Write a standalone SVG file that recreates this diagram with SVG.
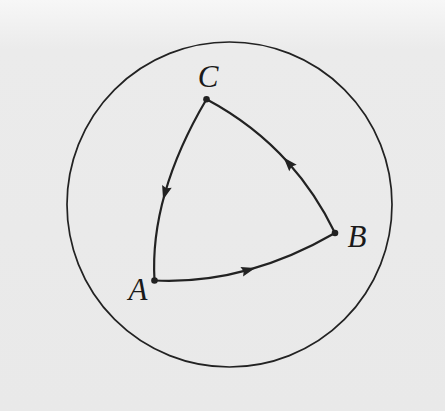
<svg xmlns="http://www.w3.org/2000/svg" width="445" height="411" viewBox="0 0 445 411">
  <defs>
    <linearGradient id="bg" x1="0" y1="0" x2="0" y2="1">
      <stop offset="0" stop-color="#f7f7f7"/>
      <stop offset="0.12" stop-color="#ebebeb"/>
      <stop offset="1" stop-color="#e9e9e9"/>
    </linearGradient>
    <marker id="arr" markerUnits="userSpaceOnUse" markerWidth="18" markerHeight="14" viewBox="-9 -7 18 14" refX="0" refY="0" orient="auto">
      <path d="M7,0 L-7,-5 L-5,0 L-7,5 Z" fill="#222"/>
    </marker>
    <style>
      .edge { fill: none; stroke: #222; stroke-width: 2.2; marker-mid: url(#arr); }
      .dot { fill: #222; }
      .lbl { font-family: "Liberation Serif", "Times New Roman", serif; font-style: italic; font-size: 31px; fill: #1a1a1a; }
    </style>
  </defs>
  <rect width="445" height="411" fill="url(#bg)"/>
  <circle cx="229.5" cy="204.5" r="162.5" fill="none" stroke="#222" stroke-width="1.7"/>
  <g id="connectors">
    <path class="edge" d="M206.5,99.3 Q178,147.5 165,193 Q152,238.5 154.5,280.5"/>
    <path class="edge" d="M154.5,280.5 Q201.56,282.84 248.5,269.9 Q291.8,257.96 335,233"/>
    <path class="edge" d="M335,233 Q316.1,193.85 288.3,162.8 Q254.3,124.85 206.5,99.3"/>
  </g>
  <g id="node-A">
    <circle class="dot" cx="154.5" cy="280.5" r="3.3"/>
    <text class="lbl" x="138" y="300" text-anchor="middle">A</text>
  </g>
  <g id="node-B">
    <circle class="dot" cx="335" cy="233" r="3.3"/>
    <text class="lbl" x="357" y="247" text-anchor="middle">B</text>
  </g>
  <g id="node-C">
    <circle class="dot" cx="206.5" cy="99.3" r="3.3"/>
    <text class="lbl" x="208" y="87" text-anchor="middle">C</text>
  </g>
</svg>
